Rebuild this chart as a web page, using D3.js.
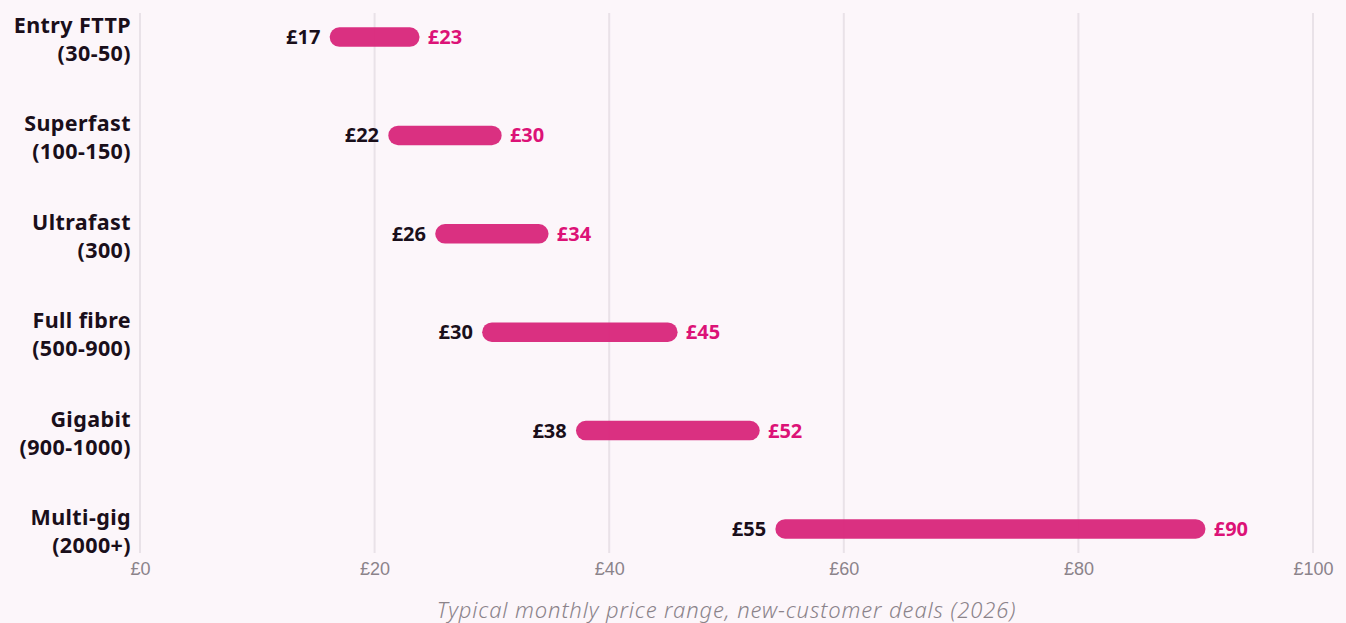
<html>
<head>
<meta charset="utf-8">
<title>Broadband price ranges</title>
<style>
  body { margin: 0; background: #fcf6fa; }
  svg { display: block; font-family: "Noto Sans", "Open Sans", sans-serif; }
</style>
</head>
<body>
<script src="https://cdn.jsdelivr.net/npm/d3@7"></script>
<script>
var width = 1346, height = 623;

// tiers, each label on two lines
var tiers = ["Entry FTTP|(30-50)", "Superfast|(100-150)", "Ultrafast|(300)", "Full fibre|(500-900)", "Gigabit|(900-1000)", "Multi-gig|(2000+)"];
var lowPrice = [17, 22, 26, 30, 38, 55];
var highPrice = [23, 30, 34, 45, 52, 90];
var xTicks = [0, 20, 40, 60, 80, 100];

var rows = tiers.map(function (t, i) { return { tier: t, low: lowPrice[i], high: highPrice[i] }; });

var svg = d3.select("body").append("svg")
    .attr("width", width)
    .attr("height", height);

svg.append("rect").attr("width", width).attr("height", height).attr("fill", "#fcf6fa");

var x = d3.scaleLinear().domain([0, 100]).range([140, 1313]);
var y = d3.scalePoint().domain(tiers).range([13, 553]).padding(0.245);

// vertical grid
svg.append("g").selectAll("line")
    .data(xTicks)
    .enter().append("line")
    .attr("x1", d => x(d)).attr("x2", d => x(d))
    .attr("y1", 13).attr("y2", 553)
    .attr("stroke", "#e9e2e8")
    .attr("stroke-width", 2);

// x axis labels
var xAxis = svg.append("g")
    .attr("transform", "translate(0,553)")
    .call(d3.axisBottom(x).tickValues(xTicks).tickSize(0).tickPadding(9).tickFormat(d => "£" + d));
xAxis.select(".domain").remove();
xAxis.selectAll("text")
    .attr("font-size", 18)
    .attr("font-family", "inherit")
    .attr("font-weight", 300)
    .attr("fill", "#8b838a");

svg.append("text")
    .attr("x", (x(0) + x(100)) / 2)
    .attr("y", 618)
    .attr("text-anchor", "middle")
    .attr("font-size", 22)
    .attr("letter-spacing", 0.9)
    .attr("font-style", "italic")
    .attr("font-weight", 300)
    .attr("fill", "#8b838a")
    .text("Typical monthly price range, new-customer deals (2026)");

// tier labels
var labels = svg.append("g").selectAll("text")
    .data(tiers)
    .enter().append("text")
    .attr("text-anchor", "end")
    .attr("font-size", 21.5)
    .attr("letter-spacing", 0.4)
    .attr("font-weight", 700)
    .attr("fill", "#1a0f1a");
labels.each(function (d) {
    var parts = d.split("|");
    var t = d3.select(this);
    t.append("tspan").attr("x", 131).attr("y", y(d) - 4).text(parts[0]);
    t.append("tspan").attr("x", 131).attr("y", y(d) + 24).text(parts[1]);
});

// range bars
var g = svg.append("g").selectAll("g")
    .data(rows)
    .enter().append("g");

g.append("line")
    .attr("x1", d => x(d.low)).attr("x2", d => x(d.high))
    .attr("y1", d => y(d.tier)).attr("y2", d => y(d.tier))
    .attr("stroke", "#d9287c")
    .attr("stroke-opacity", 0.96)
    .attr("stroke-width", 19.5)
    .attr("stroke-linecap", "round");

g.append("text")
    .attr("x", d => x(d.low) - 19)
    .attr("y", d => y(d.tier))
    .attr("dy", "0.35em")
    .attr("text-anchor", "end")
    .attr("font-size", 20)
    .attr("font-weight", 700)
    .attr("fill", "#1a0f1a")
    .text(d => "£" + d.low);

g.append("text")
    .attr("x", d => x(d.high) + 18)
    .attr("y", d => y(d.tier))
    .attr("dy", "0.35em")
    .attr("font-size", 20)
    .attr("font-weight", 700)
    .attr("fill", "#dc1277")
    .text(d => "£" + d.high);
</script>
</body>
</html>
